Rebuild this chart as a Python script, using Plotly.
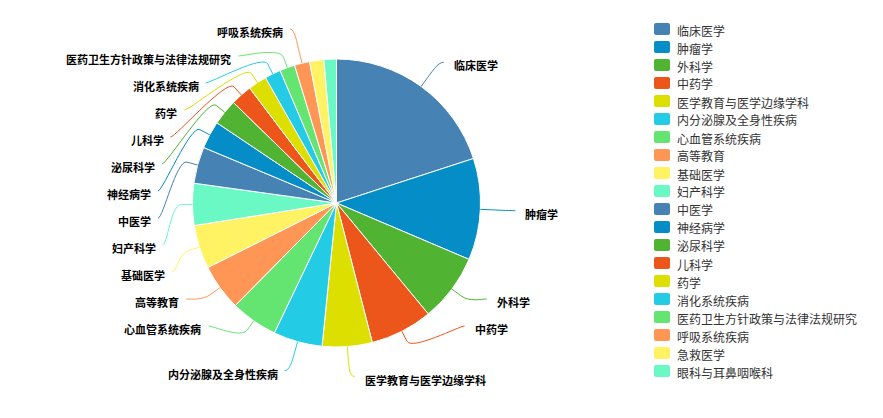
import math
import plotly.graph_objects as go

# ---- data -------------------------------------------------------------
categories = [
    "临床医学", "肿瘤学", "外科学", "中药学", "医学教育与医学边缘学科",
    "内分泌腺及全身性疾病", "心血管系统疾病", "高等教育", "基础医学", "妇产科学",
    "中医学", "神经病学", "泌尿科学", "儿科学", "药学",
    "消化系统疾病", "医药卫生方针政策与法律法规研究", "呼吸系统疾病", "急救医学", "眼科与耳鼻咽喉科",
]
counts = [200, 114, 76, 70, 56, 55, 53, 52, 49, 47, 41, 31, 29, 24, 21, 18, 17, 17, 16, 14]
palette = ["#4682B4", "#058DC7", "#50B432", "#ED561B", "#DDDF00",
           "#24CBE5", "#64E572", "#FF9655", "#FFF263", "#6AF9C4"]
colors = [palette[i % len(palette)] for i in range(len(categories))]

# ---- canvas / pie geometry (pixels) -----------------------------------
W, H = 883, 418
CX, CY, R = 336.5, 203.0, 144.0
DIST = 30          # label distance outside the pie
CONN_OFF = 11      # connector break just outside the rim
SLOT_H = 27        # height reserved per label
PLOT_TOP, PLOT_BOTTOM = 10, 403
TEXT_DY = 3        # text centre sits slightly below the connector end


def px(x):
    return x / W


def py(y):
    return 1 - y / H


def layout_labels(values):
    """Place outside labels in vertical slots on each half of the pie."""
    total = float(sum(values))
    pts = []
    start = -math.pi / 2
    for i, v in enumerate(values):
        span = v / total * 2 * math.pi
        a = start + span / 2
        start += span
        if a > 1.5 * math.pi:
            a -= 2 * math.pi
        elif a < -math.pi / 2:
            a += 2 * math.pi
        ca, sa = math.cos(a), math.sin(a)
        pts.append(dict(
            i=i, v=v, angle=a,
            half=1 if (a < -math.pi / 2 or a > math.pi / 2) else 0,
            nat=(CX + ca * (R + DIST), CY + sa * (R + DIST)),
            brk=(CX + ca * (R + CONN_OFF), CY + sa * (R + CONN_OFF)),
            base=(CX + ca * R, CY + sa * R),
        ))

    def get_x(y, left):
        rr = R + DIST
        s = max(-1.0, min(1.0, (y - CY) / rr))
        return CX + (-1 if left else 1) * math.cos(math.asin(s)) * rr

    placed = []
    for side in (0, 1):
        side_pts = [p for p in pts if p["half"] == side]
        side_pts.sort(key=lambda p: p["angle"], reverse=(side == 1))
        bottom = min(CY + R + DIST, PLOT_BOTTOM)
        slots = []
        pos = max(PLOT_TOP, CY - R - DIST)
        while pos <= bottom:
            slots.append(pos)
            pos += SLOT_H
        n_slots = len(slots)
        if len(side_pts) > n_slots:
            ranked = sorted(side_pts, key=lambda p: -p["v"])
            keep = {p["i"] for p in ranked[:n_slots]}
            side_pts = [p for p in side_pts if p["i"] in keep]
        n = len(side_pts)

        used = []
        for j, p in enumerate(side_pts):
            ny = p["nat"][1]
            k = min(range(n_slots),
                    key=lambda s: abs((slots[s] if slots[s] is not None else 0) - ny))
            if k < j and slots[j] is not None:
                k = j
            elif n_slots < n - j + k and slots[j] is not None:
                k = n_slots - n + j
                while slots[k] is None:
                    k += 1
            else:
                while slots[k] is None:
                    k += 1
            used.append((k, slots[k]))
            slots[k] = None
        used.sort(key=lambda s: s[1])

        for j, p in enumerate(side_pts):
            k, y = used[j]
            ny = p["nat"][1]
            after_free = k + 1 >= n_slots or slots[k + 1] is not None
            before_free = k - 1 < 0 or slots[k - 1] is not None
            if (ny > y and after_free) or (ny < y and before_free):
                y = min(max(PLOT_TOP, ny), PLOT_BOTTOM)
            x = get_x(ny if (k == 0 or k == n_slots - 1) else y, side == 1)
            placed.append(dict(p, x=x, y=y, left=(side == 1)))
    return placed


fig = go.Figure()

fig.add_trace(go.Pie(
    labels=categories,
    values=counts,
    sort=False,
    direction="clockwise",
    rotation=0,
    marker=dict(colors=colors, line=dict(color="#ffffff", width=1)),
    textinfo="none",
    hoverinfo="label+value+percent",
    showlegend=False,
    domain=dict(x=[px(CX - R), px(CX + R)], y=[py(CY + R), py(CY - R)]),
))

shapes = []
annotations = []

# connectors and outside labels
for lab in layout_labels(counts):
    x, y = lab["x"], lab["y"]
    bx, by = lab["brk"]
    lx, ly = lab["base"]
    sx = x - 5 if lab["left"] else x + 5
    c2x, c2y = 2 * bx - lx, 2 * by - ly
    path = (f"M{px(sx)},{py(y)} C{px(x)},{py(y)} {px(c2x)},{py(c2y)} {px(bx)},{py(by)} "
            f"L{px(lx)},{py(ly)}")
    shapes.append(dict(type="path", xref="paper", yref="paper", path=path,
                       line=dict(color=colors[lab["i"]], width=1),
                       fillcolor="rgba(0,0,0,0)", layer="above"))
    annotations.append(dict(
        x=px(x - 10) if lab["left"] else px(x + 13), y=py(y + TEXT_DY),
        xref="paper", yref="paper", showarrow=False,
        xanchor="right" if lab["left"] else "left", yanchor="middle",
        text=categories[lab["i"]],
        font=dict(family="Noto Sans CJK SC", size=11, color="#000000", weight="bold"),
    ))

# legend column
LEG_X, LEG_Y0, LEG_STEP = 654, 29, 18
SW_W, SW_H, SW_R = 16, 12, 2
for i, name in enumerate(categories):
    yc = LEG_Y0 + i * LEG_STEP
    x0, x1 = LEG_X, LEG_X + SW_W
    y0, y1 = yc - SW_H / 2, yc + SW_H / 2
    rr = SW_R
    rect = (f"M{px(x0 + rr)},{py(y0)} L{px(x1 - rr)},{py(y0)} Q{px(x1)},{py(y0)} {px(x1)},{py(y0 + rr)} "
            f"L{px(x1)},{py(y1 - rr)} Q{px(x1)},{py(y1)} {px(x1 - rr)},{py(y1)} "
            f"L{px(x0 + rr)},{py(y1)} Q{px(x0)},{py(y1)} {px(x0)},{py(y1 - rr)} "
            f"L{px(x0)},{py(y0 + rr)} Q{px(x0)},{py(y0)} {px(x0 + rr)},{py(y0)} Z")
    shapes.append(dict(type="path", xref="paper", yref="paper", path=rect,
                       line=dict(width=0), fillcolor=colors[i]))
    annotations.append(dict(
        x=px(LEG_X + SW_W + 5), y=py(yc + 1), xref="paper", yref="paper",
        showarrow=False, xanchor="left", yanchor="middle", text=name,
        font=dict(family="Noto Sans CJK SC", size=12, color="#333333"),
    ))

fig.update_layout(
    width=W, height=H, autosize=False,
    margin=dict(l=0, r=0, t=0, b=0),
    paper_bgcolor="#ffffff", plot_bgcolor="#ffffff",
    shapes=shapes, annotations=annotations,
    showlegend=False,
)

fig.write_html("out.html")
